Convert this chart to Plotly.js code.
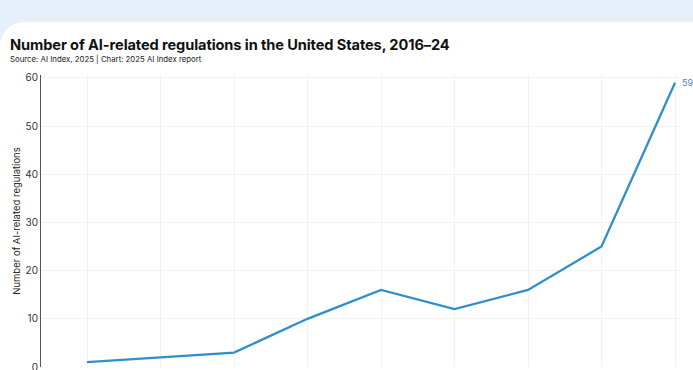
<!DOCTYPE html>
<html>
<head>
<meta charset="utf-8">
<script src="https://cdn.plot.ly/plotly-3.0.1.min.js"></script>
<style>
  html, body { margin: 0; padding: 0; width: 693px; height: 370px; overflow: hidden; background: #e6f0fa; }
  #card { position: absolute; left: 0; top: 22px; width: 720px; height: 420px; background: #ffffff; border-top-left-radius: 24px; }
  #chart { position: absolute; left: 0; top: 0; width: 693px; height: 440px; }
  #title { position: absolute; left: 10px; top: 36px; font-family: Inter, "Noto Sans", sans-serif; font-weight: 700; font-size: 14.6px; color: #111; white-space: nowrap; letter-spacing: -0.1px; }
  #sub { position: absolute; left: 10px; top: 54px; font-family: Inter, "Noto Sans", sans-serif; font-size: 7.8px; color: #222; white-space: nowrap; }
</style>
</head>
<body>
<div id="card"></div>
<div id="chart"></div>
<div id="title">Number of AI-related regulations in the United States, 2016–24</div>
<div id="sub">Source: AI Index, 2025 | Chart: 2025 AI Index report</div>
<script>
const years = [2016, 2017, 2018, 2019, 2020, 2021, 2022, 2023, 2024];
const regulations = [1, 2, 3, 10, 16, 12, 16, 25, 59];
const yTicks = [0, 10, 20, 30, 40, 50, 60];

const lineColor = '#2f8fcc';

const trace = {
  x: years,
  y: regulations,
  type: 'scatter',
  mode: 'lines',
  line: { color: lineColor, width: 2.3 },
  hoverinfo: 'skip'
};

const last = years.length - 1;

const layout = {
  width: 693,
  height: 440,
  margin: { l: 41, r: 13, t: 75, b: 73 },
  paper_bgcolor: 'rgba(0,0,0,0)',
  plot_bgcolor: 'rgba(0,0,0,0)',
  showlegend: false,
  font: { family: 'Inter, "Noto Sans", sans-serif', color: '#333' },
  xaxis: {
    range: [2015.374, 2024.068],
    tickvals: years,
    ticktext: years.map(String),
    showgrid: true,
    gridcolor: '#f1f1f1',
    gridwidth: 1,
    zeroline: false,
    showline: false,
    ticks: '',
    ticklabelstandoff: 12,
    tickfont: { size: 10, color: '#333' }
  },
  yaxis: {
    range: [0, 60.6],
    tickvals: yTicks,
    showgrid: true,
    gridcolor: '#f1f1f1',
    gridwidth: 1,
    zeroline: false,
    showline: true,
    linecolor: '#555',
    linewidth: 1,
    ticks: '',
    ticklen: 0,
    tickfont: { size: 10, color: '#333' },
    title: { text: 'Number of AI-related regulations', font: { size: 9.5, color: '#222' }, standoff: 2 }
  },
  annotations: [{
    x: years[last],
    y: regulations[last],
    xref: 'x', yref: 'y',
    text: String(regulations[last]),
    showarrow: false,
    xanchor: 'left',
    yanchor: 'middle',
    xshift: 5,
    yshift: 0,
    font: { size: 9, color: lineColor }
  }]
};

Plotly.newPlot('chart', [trace], layout, { displayModeBar: false, staticPlot: true });
</script>
</body>
</html>
